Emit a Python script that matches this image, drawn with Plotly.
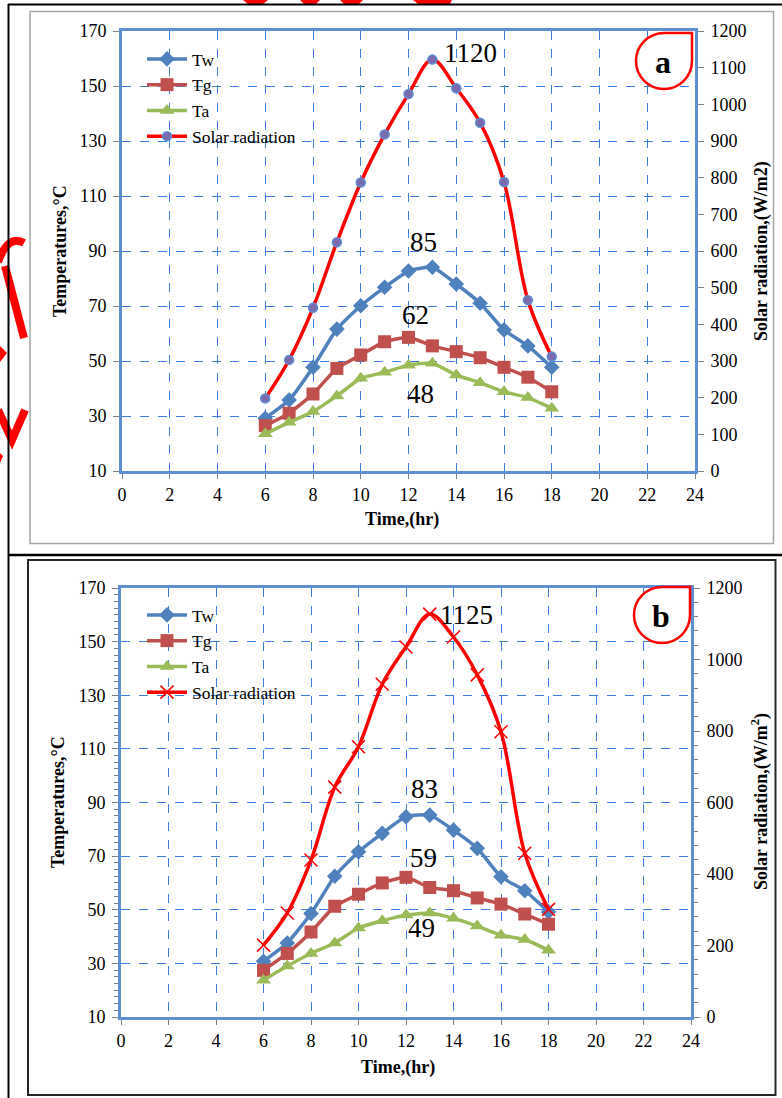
import plotly.graph_objects as go

# ---------------- data ----------------
hours = [6, 7, 8, 9, 10, 11, 12, 13, 14, 15, 16, 17, 18]

tw_a = [29.2, 35.8, 47.7, 61.6, 70.1, 76.8, 82.7, 84.1, 78.0, 71.0, 61.3, 55.5, 47.7]
tg_a = [26.5, 31.0, 38.0, 47.3, 52.2, 57.0, 58.6, 55.5, 53.4, 51.2, 47.7, 44.1, 38.8]
ta_a = [23.5, 27.7, 31.6, 37.3, 43.7, 45.9, 48.5, 49.2, 44.9, 42.1, 38.8, 36.7, 32.8]
sr_a = [198, 303, 445, 624, 787, 918, 1028, 1122, 1044, 950, 788, 466, 312]

tw_b = [30.8, 37.6, 48.6, 62.5, 71.6, 78.5, 84.7, 85.3, 79.7, 72.9, 62.3, 57.1, 49.2]
tg_b = [27.4, 33.7, 41.7, 51.3, 55.8, 60.0, 62.1, 58.3, 57.1, 54.4, 52.1, 48.4, 44.6]
ta_b = [23.7, 29.0, 33.7, 37.6, 43.2, 45.9, 48.0, 48.8, 46.8, 43.9, 40.5, 38.9, 34.9]
sr_b = [201, 291, 439, 643, 756, 931, 1035, 1127, 1063, 957, 798, 458, 301]

labels_a = ["1120", "85", "62", "48"]
labels_b = ["1125", "83", "59", "49"]

# ---------------- helpers ----------------
W, H = 782, 1098
def fx(x):
    return x / W
def fy(y):
    return 1 - y / H

SERIF = "Liberation Serif"
AX_BLUE = "#5E8FD0"
GRID_BLUE = "#3F7FDF"

fig = go.Figure()

def add_panel(xa, ya, ya2, tw, tg, ta, sr, legend, solar_marker):
    fig.add_trace(go.Scatter(x=hours, y=tw, name="Tw", xaxis=xa, yaxis=ya, legend=legend,
                             mode="lines+markers", line=dict(color="#4F81BD", width=3.5, shape="spline", smoothing=0.5),
                             marker=dict(symbol="diamond", size=12, color="#4F81BD")))
    fig.add_trace(go.Scatter(x=hours, y=tg, name="Tg", xaxis=xa, yaxis=ya, legend=legend,
                             mode="lines+markers", line=dict(color="#C0504D", width=3.5, shape="spline", smoothing=0.5),
                             marker=dict(symbol="square", size=13, color="#C0504D")))
    fig.add_trace(go.Scatter(x=hours, y=ta, name="Ta", xaxis=xa, yaxis=ya, legend=legend,
                             mode="lines+markers", line=dict(color="#9BBB59", width=3.5, shape="spline", smoothing=0.5),
                             marker=dict(symbol="triangle-up", size=13, color="#9BBB59")))
    fig.add_trace(go.Scatter(x=hours, y=sr, name="Solar radiation", xaxis=xa, yaxis=ya2, legend=legend,
                             mode="lines+markers", line=dict(color="#FF0000", width=3.5, shape="spline", smoothing=1),
                             marker=solar_marker))

add_panel("x", "y", "y2", tw_a, tg_a, ta_a, sr_a, "legend",
          dict(symbol="circle", size=9, color="#7B6AAE", line=dict(color="#5B8FD6", width=1.5)))
add_panel("x2", "y3", "y4", tw_b, tg_b, ta_b, sr_b, "legend2",
          dict(symbol="x-thin", size=13, color="#FF0000", line=dict(color="#FF0000", width=1.5)))

# plot areas (pixels)
A = dict(x0=122, x1=695, y0=31, y1=471)
B = dict(x0=121, x1=691, y0=588, y1=1017)

tickfont = dict(family=SERIF, size=18, color="black")

def xaxis_cfg(P, anchor):
    return dict(domain=[fx(P["x0"]), fx(P["x1"])], anchor=anchor, range=[0, 24], dtick=2, tick0=0,
                showline=True, linecolor=AX_BLUE, linewidth=3, mirror=True, automargin=False,
                showgrid=True, gridcolor=GRID_BLUE, gridwidth=1, griddash="dash",
                ticks="outside", ticklen=5, tickcolor="#808080", tickfont=tickfont, zeroline=False)

def yaxis_cfg(P, anchor, minor=None):
    d = dict(domain=[fy(P["y1"]), fy(P["y0"])], anchor=anchor, range=[10, 170], dtick=20, tick0=10,
             showline=True, linecolor=AX_BLUE, linewidth=3, mirror=True, automargin=False,
             showgrid=True, gridcolor=GRID_BLUE, gridwidth=1, griddash="dash",
             ticks="outside", ticklen=6, tickcolor="#808080", tickfont=tickfont, zeroline=False,
             ticklabelstandoff=3)
    if minor:
        d["minor"] = minor
    return d

def y2_cfg(over, anchor, dtick, minor=None):
    d = dict(overlaying=over, side="right", anchor=anchor, range=[0, 1200], dtick=dtick, tick0=0,
             showline=True, linecolor=AX_BLUE, linewidth=3, showgrid=False, automargin=False,
             ticks="outside", ticklen=6, tickcolor="#808080", tickfont=tickfont, zeroline=False,
             ticklabelstandoff=3)
    if minor:
        d["minor"] = minor
    return d

legend_font = dict(family=SERIF, size=17.5, color="black")

fig.update_layout(
    width=W, height=H, autosize=False,
    margin=dict(l=0, r=0, t=0, b=0, pad=0, autoexpand=False),
    paper_bgcolor="white", plot_bgcolor="white",
    xaxis=xaxis_cfg(A, "y"),
    yaxis=yaxis_cfg(A, "x"),
    yaxis2=y2_cfg("y", "x", 100),
    xaxis2=xaxis_cfg(B, "y3"),
    yaxis3=yaxis_cfg(B, "x2", minor=dict(dtick=2.5, tick0=10, ticks="outside", ticklen=4, tickcolor="#808080")),
    yaxis4=y2_cfg("y3", "x2", 200, minor=dict(dtick=40, tick0=0, ticks="outside", ticklen=4, tickcolor="#808080")),
    legend=dict(x=fx(142), y=fy(41), xanchor="left", yanchor="top", bgcolor="rgba(0,0,0,0)",
                font=legend_font, tracegroupgap=0, itemwidth=40),
    legend2=dict(x=fx(142), y=fy(597), xanchor="left", yanchor="top", bgcolor="rgba(0,0,0,0)",
                 font=legend_font, tracegroupgap=0, itemwidth=40),
    showlegend=True,
)

# ---------------- annotations ----------------
ann = []
def txt(x, y, s, size, bold=False, angle=0):
    ann.append(dict(x=fx(x), y=fy(y), xref="paper", yref="paper", text=(f"<b>{s}</b>" if bold else s),
                    showarrow=False, textangle=angle, xanchor="center", yanchor="middle",
                    font=dict(family=SERIF, size=size, color="black")))

for (s, x, y) in zip(labels_a, [470, 423, 415, 420], [53, 242, 315, 394]):
    txt(x, y, s, 27)
for (s, x, y) in zip(labels_b, [466, 424, 423, 422], [615, 789, 858, 928]):
    txt(x, y, s, 27)

txt(60, 251, "Temperatures,°C", 18, bold=True, angle=-90)
txt(761, 251, "Solar radiation,(W/m2)", 18, bold=True, angle=-90)
txt(402, 520, "Time,(hr)", 18, bold=True)
txt(58, 802, "Temperatures,°C", 18, bold=True, angle=-90)
txt(760, 802, "Solar radiation,(W/m<sup>2</sup>)", 18, bold=True, angle=-90)
txt(398, 1067, "Time,(hr)", 18, bold=True)

txt(663, 62, "a", 32, bold=True)
txt(661, 616, "b", 32, bold=True)

fig.update_layout(annotations=ann)

# ---------------- shapes ----------------
shapes = []
def P(x, y):
    return f"{fx(x):.5f},{fy(y):.5f}"

def teardrop(cx, cy, r):
    k = 0.5523 * r
    path = (f"M{P(cx, cy - r)} L{P(cx + r, cy - r)} L{P(cx + r, cy)} "
            f"C{P(cx + r, cy + k)} {P(cx + k, cy + r)} {P(cx, cy + r)} "
            f"C{P(cx - k, cy + r)} {P(cx - r, cy + k)} {P(cx - r, cy)} "
            f"C{P(cx - r, cy - k)} {P(cx - k, cy - r)} {P(cx, cy - r)} Z")
    shapes.append(dict(type="path", path=path, xref="paper", yref="paper",
                       line=dict(color="#FF0000", width=2.5), fillcolor="white", layer="above"))

def rect(x0, y0, x1, y1, color, width):
    shapes.append(dict(type="rect", xref="paper", yref="paper", x0=fx(x0), x1=fx(x1), y0=fy(y1), y1=fy(y0),
                       line=dict(color=color, width=width), fillcolor="rgba(0,0,0,0)", layer="below"))

def line(x0, y0, x1, y1, color, width):
    shapes.append(dict(type="line", xref="paper", yref="paper", x0=fx(x0), x1=fx(x1), y0=fy(y0), y1=fy(y1),
                       line=dict(color=color, width=width), layer="above"))

def red_stroke(pts, width=8, curve=False):
    if curve:
        path = f"M{P(*pts[0])} Q{P(*pts[1])} {P(*pts[2])}"
    else:
        path = "M" + " L".join(P(*p) for p in pts)
    shapes.append(dict(type="path", path=path, xref="paper", yref="paper",
                       line=dict(color="#FF0000", width=width), layer="below"))

def red_fill(pts):
    path = "M" + " L".join(P(*p) for p in pts) + " Z"
    shapes.append(dict(type="path", path=path, xref="paper", yref="paper",
                       line=dict(color="#FF0000", width=0), fillcolor="#FF0000", layer="below"))

# stray red fragments at page edges
red_stroke([(-2, 262), (8, 234), (24, 243)], width=8, curve=True)
red_stroke([(5, 266), (24, 338)], width=8)
red_fill([(0, 346), (7, 353), (0, 362)])
red_stroke([(-2, 410), (12, 440), (25, 410)], width=8)
red_fill([(0, 453), (3, 456), (0, 463)])
red_fill([(243, 0), (268, 0), (263, 4), (248, 4)])
red_fill([(300, 0), (320, 0), (316, 4), (304, 4)])
red_fill([(340, 0), (363, 0), (359, 4), (344, 4)])
red_fill([(413, 0), (452, 0), (450, 4), (418, 4)])

# chart borders
rect(30, 11.5, 773.5, 543.5, "#A6A6A6", 1.5)
rect(28, 560, 775.5, 1095, "#262626", 2)

# document table lines
line(8, 4.5, 782, 4.5, "black", 2)
line(8.5, 4, 8.5, 1098, "black", 2)
line(8, 555, 782, 555, "black", 2.5)

teardrop(664, 61, 28)
teardrop(662, 615, 28)

fig.update_layout(shapes=shapes)

post = (
    "document.documentElement.style.margin='0';document.documentElement.style.padding='0';"
    "document.body.style.margin='0';document.body.style.padding='0';"
    "document.documentElement.style.overflow='hidden';document.body.style.overflow='hidden';"
)

fig.write_html("out.html", post_script=post, config={"displayModeBar": False})
